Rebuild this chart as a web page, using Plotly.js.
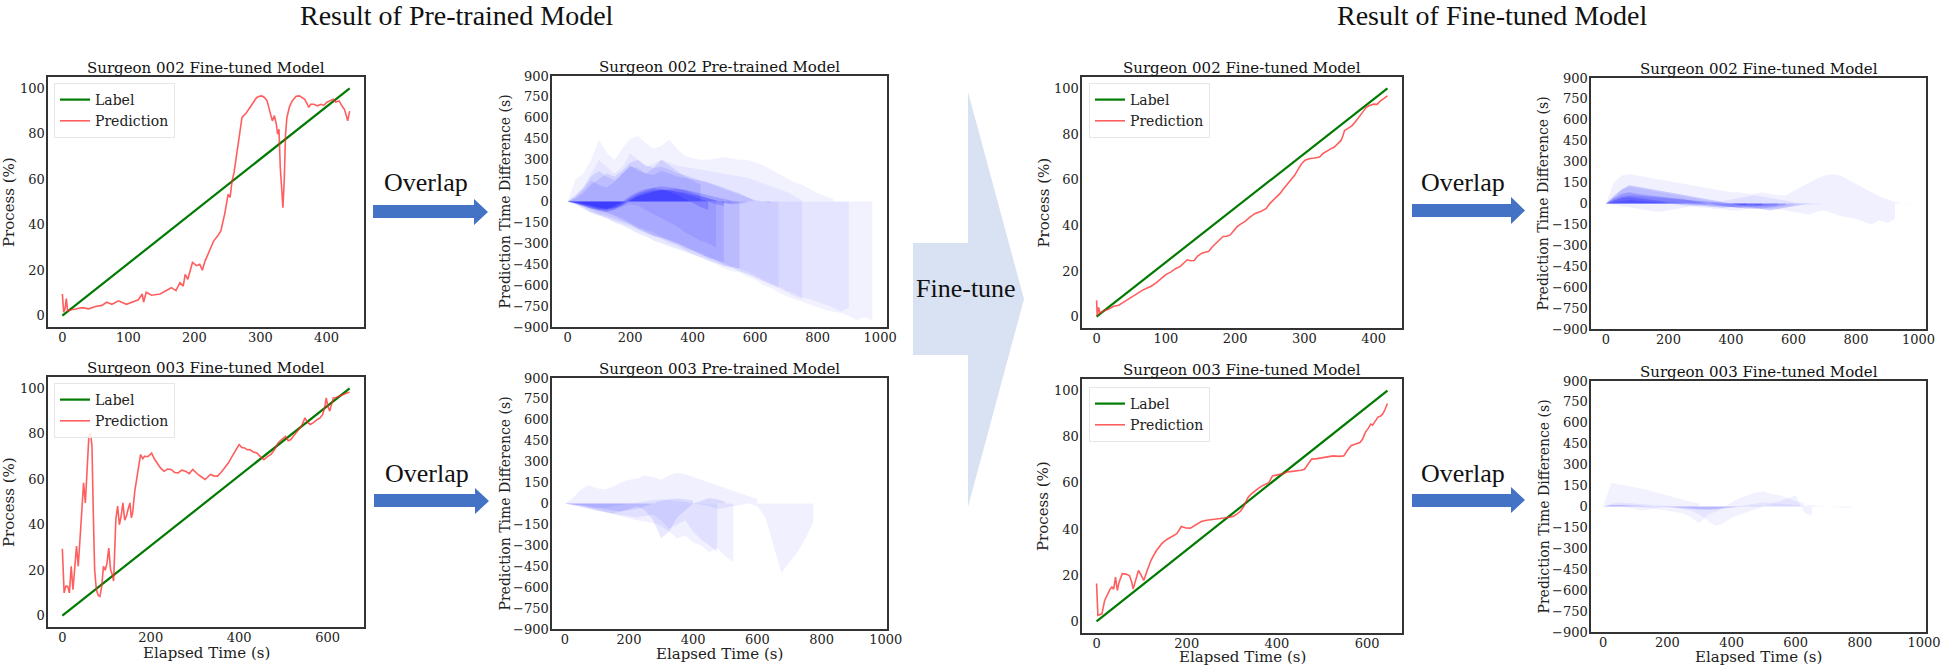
<!DOCTYPE html>
<html><head><meta charset="utf-8">
<script src="https://cdn.plot.ly/plotly-3.0.1.min.js"></script>
<style>html,body{margin:0;padding:0;background:#fff;}#chart{width:1943px;height:668px;}</style>
</head><body><div id="chart"></div>
<script>
// ---------------- DATA ----------------
// Progress curves: [elapsed time (s), process (%)]
const label002Pre = [[0,0],[435,100]];
const pred002Pre = [[0,9.5],[2,1.5],[4,3],[6,7.5],[8,2],[12,2.5],[20,2.9],[30,3.5],[40,3],[50,4],[60,4.5],[67,5.9],[75,5],[85,6.5],[97,5],[105,6],[115,7],[121,9.5],[123,5.9],[127,10.3],[135,9],[148,9.5],[158,11],[165,12.3],[172,11],[178,14.5],[183,13],[186,18.2],[190,16],[197,23.4],[203,22],[208,22.6],[212,20],[216,24],[222,28],[229,32.8],[235,35],[240,37.3],[246,45],[251,53.4],[254,52],[257,59.3],[260,63],[262,66.6],[266,75],[272,87.2],[278,89],[284,91.6],[290,94],[294,95.9],[298,96.5],[302,96.7],[306,96],[310,94.5],[314,90],[318,85.7],[321,88],[324,84.2],[326,79.8],[328,82],[330,65.1],[332,55],[334,47.5],[336,60],[338,80],[340,87.2],[344,92],[348,94.5],[354,96.5],[359,96.7],[363,96],[367,95.2],[371,93],[373,91.6],[376,93],[381,93],[386,92.3],[392,93],[396,92.5],[400,93.8],[405,94.5],[410,95.2],[414,94],[419,94.5],[424,92],[427,90.8],[430,88],[432,85.7],[435,90]];

const label003Pre = [[0,0],[650,100]];
const pred003Pre = [[0,29.4],[4,10],[8,13],[12,12.9],[16,10],[20,21.7],[24,11.4],[28,20.3],[32,30.6],[36,21.7],[40,35],[44,45.2],[48,58.4],[52,49.6],[56,65.7],[60,78.9],[64,80.4],[67,74.5],[70,45.2],[73,20.3],[77,11.4],[81,9],[85,8.5],[89,12.9],[93,21.7],[97,20],[101,23.1],[105,29.7],[109,20.3],[113,18],[116,15.2],[121,42.3],[125,48.2],[129,40],[133,43.8],[137,49.6],[141,42],[145,43.8],[149,47],[153,49.6],[156,43],[159,45.2],[164,55],[170,62.8],[177,70.9],[182,69],[186,70.1],[194,70],[202,71.5],[208,69],[214,67.2],[222,65],[230,63.5],[238,64.5],[246,64.3],[254,63],[262,62.8],[270,64],[279,63.5],[287,62.5],[295,64.3],[301,63],[307,62.1],[315,61],[323,59.9],[329,61],[335,62.1],[343,61.5],[351,61.4],[359,63],[367,65],[375,67],[384,70.1],[392,73],[400,75.3],[406,74],[412,73.8],[418,73],[424,73.1],[432,72],[440,71.6],[448,70],[456,68.6],[464,70],[472,70.9],[480,73],[488,76],[496,77.5],[505,78.9],[511,77],[517,77.5],[523,79],[529,80.4],[535,82],[541,83.4],[549,87],[555,85],[561,84.1],[569,85],[577,86.3],[583,87],[589,88.5],[594,92],[597,95.8],[601,92],[605,90],[609,93],[613,95.8],[619,96],[626,96.6],[632,97],[638,97.7],[644,98],[650,98.3]];

const label002Fine = [[0,0],[420,100]];
const pred002Fine = [[0,7.1],[1,0.3],[3,4],[5,1.5],[10,2.5],[17,3.2],[25,4.5],[32,5],[38,6.1],[45,7.5],[52,9],[59,10.4],[66,11.5],[73,12.5],[79,13.3],[86,14.8],[93,16.5],[100,18.4],[107,19.5],[114,21],[121,22],[126,23.5],[131,24.9],[136,24.5],[141,24.6],[146,26.5],[152,27.8],[157,28.2],[162,28.6],[167,30.5],[172,32.2],[178,33.8],[183,35.1],[188,35.2],[193,35.8],[198,37.5],[203,39.4],[208,40.5],[214,41.6],[221,43.5],[229,45.2],[237,46],[245,47.4],[250,49.5],[255,51],[260,52.5],[265,54],[270,56],[276,58.3],[281,60.5],[286,61.9],[291,64.5],[296,67],[301,68.5],[307,69.2],[315,69.5],[322,69.9],[327,71.5],[333,72.8],[338,73.5],[343,74.2],[348,75.5],[353,77.2],[356,79.5],[358,81.5],[363,82.5],[369,83.7],[374,85.5],[379,87.3],[384,89.5],[389,91.6],[394,92.5],[400,93.1],[405,93],[410,94.5],[415,95.5],[420,96.7]];

const label003Fine = [[0,0],[645,100]];
const pred003Fine = [[0,16.4],[3,2.6],[8,3],[12,3.3],[18,9.1],[25,12],[30,14],[34,14.9],[38,14],[42,19.2],[46,13.4],[50,17],[57,20.7],[65,20.5],[73,19.9],[78,17],[81,14.1],[87,18],[93,22.1],[99,20],[105,17.8],[112,22],[121,26.6],[132,30.5],[145,33.8],[156,35.5],[168,36.8],[178,38],[188,41.1],[198,40.5],[208,40.4],[220,42],[232,43.3],[244,43.8],[255,44],[267,44.2],[279,44.7],[291,45],[303,45.5],[311,46.5],[319,47.7],[327,50],[335,53.5],[342,55],[350,56.4],[358,57.5],[366,58.6],[374,59.5],[382,60.1],[390,63],[398,63.2],[406,63.7],[414,64],[422,64.7],[434,65],[445,65.2],[453,65.5],[461,65.9],[469,68],[477,70.3],[489,70.5],[501,71],[513,71.2],[525,71.7],[537,71.5],[548,71.7],[556,74],[564,76.1],[574,76.8],[584,77.5],[590,79],[596,81.9],[602,83.5],[608,85.5],[612,85],[616,86.3],[620,87],[624,88.5],[630,89],[635,89.9],[640,92],[645,94.4]];

// Prediction time difference (s), one series per video, sampled every 25 s from t = 0
const sampleStep = 25;
const diff002PreDense = [
  [0,-10,-25,-40,-55,-60,-50,-30,10,40,60,75,85,90,90,85,75,60,45,30,15,5,0],
  [0,-15,-30,-50,-70,-75,-60,-20,20,50,70,80,85,80,70,55,40,20,0,-20,-30],
  [0,-5,-20,-35,-45,-50,-40,-10,30,60,80,100,110,105,95,80,60,40,20,5,-10,-20,-15,-5],
  [0,-10,-30,-50,-60,-55,-30,0,40,70,90,95,90,70,50,20,-10,-40,-60],
  [0,-8,-18,-30,-45,-55,-45,-25,5,35,55,70,80,80,75,65,50,35,20,5,-5,-10]
];
const diff002PreMid = [
  [0,20,60,120,160,200,180,220,280,300,260,240,250,230,200,190,170,150,140,120,100,80,60,30,0],
  [0,-20,-50,-80,-100,-120,-150,-170,-200,-230,-250,-280,-300,-320,-340,-360,-380,-400,-420,-440,-460,-470,-480],
  [0,-10,-30,-50,-60,-80,-100,-130,-160,-200,-220,-250,-260,-280,-300,-320,-350,-380,-400,-420,-440],
  [0,-5,-20,-40,-60,-70,-60,-40,-20,-30,-60,-90,-120,-150,-180,-220,-250,-280,-300,-330],
  [0,30,80,150,120,100,140,200,260,220,200,240,300,260,220,180,150,120],
  [0,40,100,180,220,180,150,200,250,240,200,190,220,200,180,170,160,150,130,110,90,70,50,30,10,0,-10]
];
const diff002PreSparse = [
  [0,160,200,300,445,350,300,380,450,470,420,380,400,445,380,330,310,300,300,310,320,310,300,300,280,260,230,200,170,140,120,90,60,40,20],
  [0,-20,-50,-80,-100,-120,-140,-160,-180,-200,-230,-250,-270,-300,-320,-350,-380,-400,-430,-450,-480,-500,-510,-540,-560,-600,-620,-650,-680,-700,-720,-740,-760,-780,-790,-800,-820,-850,-830,-850],
  [0,-10,-30,-60,-90,-110,-130,-150,-170,-190,-210,-240,-260,-290,-310,-340,-360,-380,-410,-430,-460,-480,-500,-520,-540,-570,-590,-610,-640,-660,-690,-700,-720,-740,-760,-790,-760],
  [0,-15,-40,-70,-90,-100,-120,-140,-160,-190,-220,-240,-260,-280,-300,-330,-350,-370,-400,-420,-440,-470,-480,-500,-530,-560,-590,-620,-650,-680,-700],
  [0,-10,-25,-40,-60,-80,-100,-120,-150,-180,-200,-220,-250,-270,-300,-330,-350,-370,-400,-420,-450,-470,-500,-520,-550,-570,-600,-620],
  [0,50,100,200,300,250,200,250,350,300,250,270,300,280,260,250,240,230,220,210,200,190,180,170,150,130,110,90,70,40,10]
];

const diff003PreDense = [
  [0,-5,-15,-25,-35,-45,-50,-55,-50,-40,-20,0,20,30,35,30,20],
  [0,-10,-20,-35,-50,-60,-70,-60,-40,-20,-50,-120,-250,-200,-100,-50,0,20,40,30,10]
];
const diff003PreSparse = [
  [0,-5,-15,-30,-45,-60,-80,-95,-110,-120,-130,-140,-160,-200,-250,-230,-280,-300,-350,-320,-380,-420],
  [0,-10,-25,-40,-55,-65,-75,-85,-95,-100,-90,-80,-120,-180,-150,-120,-200,-260,-300,-350],
  [0,40,100,130,110,100,120,150,170,180,200,190,170,200,220,210,190,170,150,130,110,90,70,50,30],
  [0,-5,-10,-20,-30,-30,-20,-10,0,10,20,25,30,25,20,10,0,-10,-20,-40,-30,-20,-10,0,-20,-100,-300,-500,-420,-350,-250,-130]
];

const diff002FineDense = [
  [0,30,50,60,55,50,45,40,35,30,25,20,15,10,5,0,-5,-10,-15,-20,-20,-15,-10],
  [0,20,40,45,40,35,30,20,10,5,0,-5,-10,-15,-20,-25,-30,-30,-25,-20,-15],
  [0,40,70,80,70,60,55,50,45,40,30,20,10,0,-10,-20,-25,-30,-35,-40,-35,-30,-20,-10],
  [0,10,20,25,20,15,10,5,0,-5,-10,-15,-20,-25,-30,-30,-25,-20,-15],
  [0,50,100,130,120,110,100,90,80,70,60,50,40,30,20,10,0,-10,-20,-30,-40,-50,-40,-30,-20,-10,0]
];
const diff002FineSparse = [
  [0,150,200,210,200,190,180,170,160,150,140,130,120,110,100,90,80,80,70,70,80,70,60,60,90,120,150,180,200,210,200,170,140,110,80,50,30,10,0,-5],
  [0,20,40,50,40,30,20,10,0,-10,-20,-20,-30,-30,-40,-40,-50,-50,-40,-30,-20,-30,-40,-50,-60,-70,-80,-60,-50,-70,-90,-100,-110,-130,-150,-120,-140,-110],
  [0,60,100,120,110,100,90,80,70,60,50,40,30,20,10,0,-10,-20,-30,-30,-40,-40,-30,-20,-10],
  [0,-10,-20,-30,-40,-50,-55,-60,-50,-40,-30,-20,-10,0,10,20,30,40,50,60,50,40,30,20,10,0,-10,-5,0]
];

const diff003FineDense = [
  [0,10,15,12,10,8,5,0,-5,-10,-15,-20,-20,-25,-20,-15,-10,-5,0],
  [0,12,10,8,6,4,2,0,-4,-8,-12,-18,-22,-20,-15,-10,-5,0,5,8,4]
];
const diff003FineSparse = [
  [0,170,160,150,140,125,110,95,80,65,50,35,20],
  [0,10,10,5,0,-5,-10,-20,-30,-40,-50,-80,-120,-60,-40,-10,30,60,80,100,110,90,80,60,40,30],
  [0,5,0,-10,-20,-30,-20,-10,0,-10,-20,-30,-60,-100,-140,-120,-80,-60,-40,-20,0,20,40,60,80,-40,-70],
  [0,20,30,25,20,15,10,5,0,-5,-10,-15,-20,-20,-25,-15,-5,5,15,25,30,25,20,15,10,5,10,5,0,-5,-10,-5]
];

const progressTicks002 = [0,100,200,300,400];
const progressTicks003 = [0,200,400,600];
const processTicks = [0,20,40,60,80,100];
const diffTicks = [-900,-750,-600,-450,-300,-150,0,150,300,450,600,750,900];
const diffTimeTicks = [0,200,400,600,800,1000];

// ---------------- LAYOUT HELPERS ----------------
const W = 1943, H = 668;
const fx = v => v / W;
const fy = v => 1 - v / H;
const SERIF = 'DejaVu Serif, serif';
const TIMES = 'Liberation Serif, Times New Roman, serif';

const panels = [
  {id:1, box:[48,364,77,327],   xr:[-21.75,456.75], yr:[-5,105], kind:'line', title:'Surgeon 002 Fine-tuned Model', label:label002Pre, pred:pred002Pre, xt:progressTicks002, legend:'legend', leg:[54,83]},
  {id:2, box:[552,887,76,327],  xr:[-50,1022], yr:[-900,900], kind:'diff', title:'Surgeon 002 Pre-trained Model', groups:[diff002PreDense,diff002PreMid,diff002PreSparse], alphas:[0.16,0.09,0.05]},
  {id:3, box:[48,364,377,627],  xr:[-32.5,682.5], yr:[-5,105], kind:'line', title:'Surgeon 003 Fine-tuned Model', label:label003Pre, pred:pred003Pre, xt:progressTicks003, legend:'legend2', leg:[54,383], xtitle:653},
  {id:4, box:[552,887,378,629], xr:[-40,1004], yr:[-900,900], kind:'diff', title:'Surgeon 003 Pre-trained Model', groups:[diff003PreDense,diff003PreSparse], alphas:[0.09,0.06], xtitle:654},
  {id:5, box:[1082,1402,77,328], xr:[-21,441], yr:[-5,105], kind:'line', title:'Surgeon 002 Fine-tuned Model', label:label002Fine, pred:pred002Fine, xt:progressTicks002, legend:'legend3', leg:[1089,83]},
  {id:6, box:[1591,1926,78,329], xr:[-48,1024], yr:[-900,900], kind:'diff', title:'Surgeon 002 Fine-tuned Model', groups:[diff002FineDense,diff002FineSparse], alphas:[0.17,0.06]},
  {id:7, box:[1082,1402,379,633], xr:[-32.25,677.25], yr:[-5,105], kind:'line', title:'Surgeon 003 Fine-tuned Model', label:label003Fine, pred:pred003Fine, xt:progressTicks003, legend:'legend4', leg:[1089,387], xtitle:657},
  {id:8, box:[1591,1926,381,632], xr:[-38,1006], yr:[-900,900], kind:'diff', title:'Surgeon 003 Fine-tuned Model', groups:[diff003FineDense,diff003FineSparse], alphas:[0.08,0.05], xtitle:657}
];

const traces = [];
const layout = {
  width: W, height: H, autosize: false,
  margin: {l:0, r:0, t:0, b:0},
  paper_bgcolor: '#ffffff', plot_bgcolor: '#ffffff',
  showlegend: true,
  annotations: [], shapes: []
};

panels.forEach(p => {
  const sx = p.id === 1 ? '' : String(p.id);
  const xa = 'x' + sx, ya = 'y' + sx;
  const [l, r, t, b] = p.box;
  const axCommon = {
    showgrid:false, zeroline:false, showline:true, mirror:true,
    linecolor:'#333333', linewidth:1.6, ticks:'', ticklen:0, fixedrange:true,
    tickfont:{family:SERIF, size:13, color:'#222222'}
  };
  layout['xaxis' + sx] = Object.assign({}, axCommon, {
    domain:[fx(l), fx(r)], range:p.xr, anchor:ya, ticklabelstandoff:-2,
    tickmode:'array', tickvals: p.kind === 'line' ? p.xt : diffTimeTicks
  });
  const yTicks = p.kind === 'line' ? processTicks : diffTicks;
  layout['yaxis' + sx] = Object.assign({}, axCommon, {
    domain:[fy(b), fy(t)], range:p.yr, anchor:xa, ticklabelstandoff:-1,
    tickmode:'array', tickvals: yTicks,
    ticktext: yTicks.map(v => v < 0 ? '\u2212' + Math.abs(v) : String(v))
  });

  if (p.kind === 'line') {
    traces.push({
      type:'scatter', mode:'lines', xaxis:xa, yaxis:ya, name:'Label',
      x:p.label.map(d => d[0]), y:p.label.map(d => d[1]),
      line:{color:'#007a00', width:2.2}, legend:p.legend, hoverinfo:'skip'
    });
    traces.push({
      type:'scatter', mode:'lines', xaxis:xa, yaxis:ya, name:'Prediction',
      x:p.pred.map(d => d[0]), y:p.pred.map(d => d[1]),
      line:{color:'rgba(255,40,40,0.75)', width:1.6}, legend:p.legend, hoverinfo:'skip'
    });
    layout[p.legend] = {
      x:fx(p.leg[0]), y:fy(p.leg[1]), xanchor:'left', yanchor:'top',
      bgcolor:'rgba(255,255,255,0.85)', bordercolor:'#e6e6e6', borderwidth:1,
      font:{family:SERIF, size:14, color:'#222222'}, tracegroupgap:0, itemwidth:30
    };
  } else {
    p.groups.forEach((group, gi) => {
      group.forEach(series => {
        traces.push({
          type:'scatter', mode:'lines', xaxis:xa, yaxis:ya, showlegend:false,
          x: series.map((_, i) => i * sampleStep), y: series,
          fill:'tozeroy', fillcolor:'rgba(0,0,255,' + p.alphas[gi] + ')',
          line:{width:0, color:'rgba(0,0,0,0)'}, hoverinfo:'skip'
        });
      });
    });
  }

  // subplot title
  layout.annotations.push({
    xref:'paper', yref:'paper', x:fx((l + r) / 2), y:fy(t - 9), xanchor:'center', yanchor:'middle',
    text:p.title, showarrow:false, font:{family:SERIF, size:15, color:'#111111'}
  });
  // y title
  layout.annotations.push({
    xref:'paper', yref:'paper', x:fx(l - (p.kind === 'line' ? 39 : 48)), y:fy((t + b) / 2),
    xanchor:'center', yanchor:'middle', textangle:-90,
    text: p.kind === 'line' ? 'Process (%)' : 'Prediction Time Difference (s)', showarrow:false,
    font:{family:SERIF, size: p.kind === 'line' ? 15 : 14, color:'#222222'}
  });
  if (p.xtitle) {
    layout.annotations.push({
      xref:'paper', yref:'paper', x:fx((l + r) / 2), y:fy(p.xtitle), xanchor:'center', yanchor:'middle',
      text:'Elapsed Time (s)', showarrow:false, font:{family:SERIF, size:15, color:'#222222'}
    });
  }
});

// Big headings
[['Result of Pre-trained Model', 457], ['Result of Fine-tuned Model', 1492]].forEach(([txt, cx]) => {
  layout.annotations.push({xref:'paper', yref:'paper', x:fx(cx), y:fy(16), xanchor:'center', yanchor:'middle',
    text:txt, showarrow:false, font:{family:TIMES, size:28, color:'#111111'}});
});

// Overlap arrows + labels
function pathFrom(points) {
  return 'M ' + points.map(p => fx(p[0]) + ',' + fy(p[1])).join(' L ') + ' Z';
}
const overlapArrows = [
  {sx:373, hx:474, tip:488, s0:205, s1:218, h0:199, h1:225, ty:183, tx:426},
  {sx:374, hx:475, tip:489, s0:494, s1:507, h0:488, h1:514, ty:473, tx:427},
  {sx:1412, hx:1511, tip:1525, s0:204, s1:217, h0:197, h1:224, ty:183, tx:1463},
  {sx:1412, hx:1511, tip:1525, s0:494, s1:507, h0:487, h1:513, ty:473, tx:1463}
];
overlapArrows.forEach(a => {
  const mid = (a.h0 + a.h1) / 2;
  layout.shapes.push({type:'path', xref:'paper', yref:'paper', layer:'above',
    path: pathFrom([[a.sx,a.s0],[a.hx,a.s0],[a.hx,a.h0],[a.tip,mid],[a.hx,a.h1],[a.hx,a.s1],[a.sx,a.s1]]),
    fillcolor:'#4472C4', line:{width:0}});
  layout.annotations.push({xref:'paper', yref:'paper', x:fx(a.tx), y:fy(a.ty), xanchor:'center', yanchor:'middle',
    text:'Overlap', showarrow:false, font:{family:TIMES, size:26, color:'#111111'}});
});

// Fine-tune block arrow
layout.shapes.push({type:'path', xref:'paper', yref:'paper', layer:'below',
  path: pathFrom([[913,243],[968,243],[968,92],[1024,299],[968,507],[968,355],[913,355]]),
  fillcolor:'#D9E2F3', line:{width:0}});
layout.annotations.push({xref:'paper', yref:'paper', x:fx(966), y:fy(288), xanchor:'center', yanchor:'middle',
  text:'Fine-tune', showarrow:false, font:{family:TIMES, size:26, color:'#111111'}});

Plotly.newPlot('chart', traces, layout, {staticPlot:true, displayModeBar:false});
</script>
</body></html>
